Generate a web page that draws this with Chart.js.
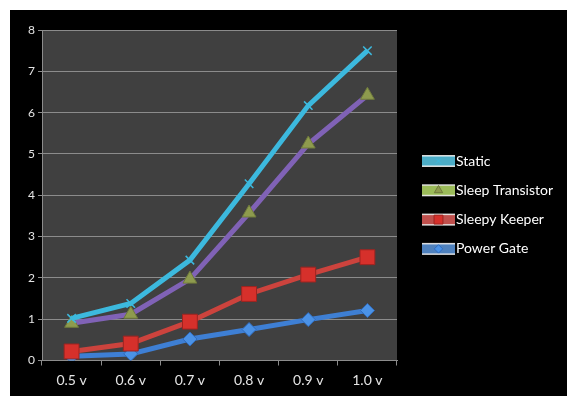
<!DOCTYPE html>
<html>
<head>
<meta charset="utf-8">
<script src="https://cdn.jsdelivr.net/npm/chart.js@4.4.1/dist/chart.umd.min.js"></script>
<style>
html, body { margin: 0; padding: 0; background: #fff; }
#moldura { position: absolute; left: 10px; top: 10px; width: 557px; height: 386px; background: #000; }
</style>
</head>
<body>
<div id="moldura"><canvas id="grafico-tensao" width="557" height="386"></canvas></div>
<script>
var categorias = ['0.5 v', '0.6 v', '0.7 v', '0.8 v', '0.9 v', '1.0 v'];
var nomesSeries = ['Static', 'Sleep Transistor', 'Sleepy Keeper', 'Power Gate'];
var valoresStatic = [1.02, 1.38, 2.43, 4.28, 6.17, 7.5];
var valoresSleepTransistor = [0.9, 1.12, 1.97, 3.57, 5.24, 6.42];
var valoresSleepyKeeper = [0.22, 0.41, 0.94, 1.61, 2.08, 2.5];
var valoresPowerGate = [0.1, 0.16, 0.52, 0.75, 0.99, 1.21];
var eixoY = { min: 0, max: 8, passo: 1 };

var corGrade = '#8c8c8c';
var corTexto = '#e4e4e4';
var fonte = 'Lato, "Open Sans", sans-serif';

// fundo cinza da area de plotagem
var fundoPlot = {
    id: 'fundoPlot',
    beforeDraw: function(chart) {
        var a = chart.chartArea;
        var ctx = chart.ctx;
        ctx.save();
        ctx.fillStyle = '#404040';
        ctx.fillRect(a.left, a.top, a.right - a.left, a.bottom - a.top);
        ctx.restore();
    }
};

// legenda no estilo do Excel: faixa colorida com o marcador no meio
var legendaLateral = {
    id: 'legendaLateral',
    afterDraw: function(chart) {
        var ctx = chart.ctx;
        var x0 = 412, largura = 33, y0 = 151, passo = 29.3;
        ctx.save();
        chart.data.datasets.forEach(function(ds, i) {
            var y = y0 + i * passo;
            ctx.fillStyle = ds.corLegenda;
            ctx.fillRect(x0, y - 5, largura, 10);
            ctx.fillStyle = 'rgba(255,255,255,0.85)';
            ctx.fillRect(x0, y - 6, largura, 1.5);
            ctx.fillRect(x0, y + 4.5, largura, 1.5);
            ctx.fillStyle = ds.pointBackgroundColor;
            ctx.strokeStyle = ds.pointBorderColor;
            ctx.lineWidth = 1;
            Chart.helpers.drawPoint(ctx, {
                pointStyle: ds.pointStyle,
                radius: ds.pointRadius * 0.6,
                borderWidth: 1,
                rotation: 0
            }, x0 + largura / 2, y);
            ctx.fillStyle = '#ffffff';
            ctx.font = '14px ' + fonte;
            ctx.textBaseline = 'middle';
            ctx.textAlign = 'left';
            ctx.fillText(ds.label, x0 + largura + 1, y);
        });
        ctx.restore();
    }
};

new Chart(document.getElementById('grafico-tensao').getContext('2d'), {
    type: 'line',
    data: {
        labels: categorias,
        datasets: [
            { label: nomesSeries[0], data: valoresStatic, borderColor: '#3cb9de', borderWidth: 5,
              pointStyle: 'crossRot', pointRadius: 6, pointBorderWidth: 1.5,
              pointBackgroundColor: '#3cb9de', pointBorderColor: '#3cb9de', corLegenda: '#4bacc6' },
            { label: nomesSeries[1], data: valoresSleepTransistor, borderColor: '#8062b6', borderWidth: 5,
              pointStyle: 'triangle', pointRadius: 8, pointBorderWidth: 1,
              pointBackgroundColor: '#8e9b4e', pointBorderColor: '#6f7a3c', corLegenda: '#9bbb59' },
            { label: nomesSeries[2], data: valoresSleepyKeeper, borderColor: '#cc433d', borderWidth: 5,
              pointStyle: 'rect', pointRadius: 10.5, pointBorderWidth: 1,
              pointBackgroundColor: '#d6302b', pointBorderColor: '#9e2420', corLegenda: '#c0504d' },
            { label: nomesSeries[3], data: valoresPowerGate, borderColor: '#3e7fd4', borderWidth: 5,
              pointStyle: 'rectRot', pointRadius: 7, pointBorderWidth: 1,
              pointBackgroundColor: '#4b92e6', pointBorderColor: '#2f6bbd', corLegenda: '#4f81bd' }
        ]
    },
    options: {
        responsive: false,
        animation: false,
        devicePixelRatio: 1,
        layout: { padding: { top: 20, right: 170, left: 0, bottom: 0 } },
        plugins: { legend: { display: false }, tooltip: { enabled: false } },
        elements: { line: { tension: 0 } },
        scales: {
            x: {
                offset: true,
                grid: { display: true, drawOnChartArea: false, offset: true, tickLength: 5, color: corGrade },
                border: { display: true, color: corGrade },
                ticks: { color: corTexto, font: { family: fonte, size: 14 }, padding: 7 },
                afterFit: function(s) { s.height = 35.5; }
            },
            y: {
                min: eixoY.min, max: eixoY.max,
                grid: { color: corGrade, tickLength: 4 },
                border: { display: true, color: corGrade },
                ticks: { stepSize: eixoY.passo, color: corTexto, font: { family: fonte, size: 12 }, padding: 3 },
                afterFit: function(s) { s.width = 32; }
            }
        }
    },
    plugins: [fundoPlot, legendaLateral]
});
</script>
</body>
</html>
